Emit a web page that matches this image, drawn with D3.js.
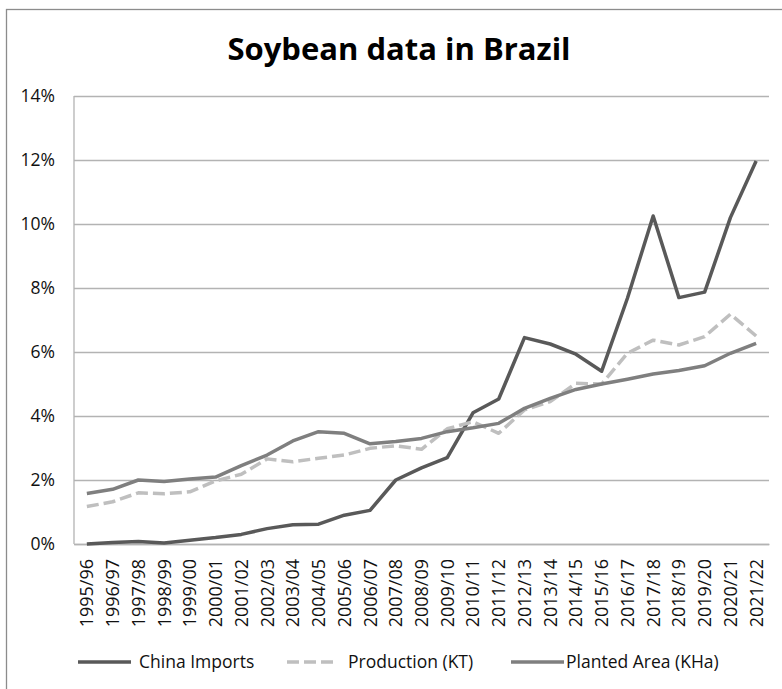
<!DOCTYPE html>
<html>
<head>
<meta charset="utf-8">
<script src="https://cdn.jsdelivr.net/npm/d3@7"></script>
<style>
    body { margin: 0; background: #fff; }
    svg { display: block; }
</style>
</head>
<body>
<div id="output"></div>
<script>
const seasons = ["1995/96", "1996/97", "1997/98", "1998/99", "1999/00", "2000/01", "2001/02",
    "2002/03", "2003/04", "2004/05", "2005/06", "2006/07", "2007/08", "2008/09", "2009/10",
    "2010/11", "2011/12", "2012/13", "2013/14", "2014/15", "2015/16", "2016/17", "2017/18",
    "2018/19", "2019/20", "2020/21", "2021/22"];

const chinaImports = [0.00, 0.05, 0.08, 0.03, 0.12, 0.20, 0.30, 0.48, 0.60, 0.62, 0.90, 1.05, 2.00,
    2.38, 2.70, 4.10, 4.53, 6.45, 6.25, 5.93, 5.40, 7.68, 10.25, 7.70, 7.87, 10.20, 11.97];

const production = [1.17, 1.32, 1.60, 1.57, 1.63, 1.97, 2.18, 2.66, 2.57, 2.68, 2.78, 2.99, 3.07,
    2.96, 3.60, 3.82, 3.46, 4.19, 4.45, 5.02, 5.00, 5.96, 6.37, 6.22, 6.48, 7.18, 6.50];

const plantedArea = [1.58, 1.71, 2.00, 1.95, 2.03, 2.09, 2.45, 2.78, 3.22, 3.51, 3.46, 3.13, 3.20,
    3.30, 3.51, 3.63, 3.77, 4.24, 4.55, 4.83, 5.00, 5.15, 5.31, 5.42, 5.57, 5.96, 6.27];

const yTicks = [0, 2, 4, 6, 8, 10, 12, 14];

const series = [
    { name: "China Imports", values: chinaImports, color: "#595959", dash: null },
    { name: "Production (KT)", values: production, color: "#bfbfbf", dash: "12,5" },
    { name: "Planted Area (KHa)", values: plantedArea, color: "#7f7f7f", dash: null }
];

const W = 782, H = 689;
const font = "'Open Sans', sans-serif";
const plotLeft = 74, plotRight = 769, plotTop = 96, plotBottom = 544;

const svg = d3.select("#output").append("svg").attr("width", W).attr("height", H);

// chart frame (runs off the right and bottom of the picture)
svg.append("rect")
    .attr("x", 6.5).attr("y", 9.5)
    .attr("width", 786).attr("height", 700)
    .style("fill", "none")
    .style("stroke", "#8c8c8c")
    .style("stroke-width", 1.3);

svg.append("text")
    .attr("x", 399).attr("y", 60)
    .style("font-family", font)
    .style("font-weight", "bold")
    .style("font-size", "31px")
    .style("text-anchor", "middle")
    .style("fill", "#000")
    .text("Soybean data in Brazil");

const x = d3.scaleBand().domain(seasons).range([plotLeft, plotRight]).padding(0);
const y = d3.scaleLinear().domain([0, 14]).range([plotBottom, plotTop]);

// gridlines + y labels
const yAxis = svg.append("g")
    .attr("transform", `translate(${plotLeft},0)`)
    .call(d3.axisLeft(y).tickValues(yTicks).tickSize(-(plotRight - plotLeft)).tickPadding(19)
        .tickFormat(d => d + "%"));
yAxis.select(".domain").remove();
yAxis.selectAll(".tick line").style("stroke", "#b3b3b3").style("stroke-width", 1.3);
yAxis.selectAll(".tick text")
    .style("font-family", font)
    .style("font-size", "17.5px")
    .style("fill", "#111");

svg.append("line")
    .attr("x1", plotLeft).attr("x2", plotLeft)
    .attr("y1", plotTop).attr("y2", plotBottom)
    .style("stroke", "#b3b3b3").style("stroke-width", 1.3);

// x axis, rotated labels
const xAxis = svg.append("g")
    .attr("transform", `translate(0,${plotBottom})`)
    .call(d3.axisBottom(x).tickSize(0).tickPadding(0));
xAxis.select(".domain").style("stroke", "#b3b3b3").style("stroke-width", 1.3);
xAxis.selectAll(".tick text")
    .style("font-family", font)
    .style("font-size", "18px")
    .style("fill", "#111")
    .style("text-anchor", "end")
    .attr("transform", "rotate(-90)")
    .attr("x", -15)
    .attr("y", 0)
    .attr("dy", "0.36em");

const line = d3.line()
    .x((d, i) => x(seasons[i]) + x.bandwidth() / 2)
    .y(d => y(d));

for (let s of series) {
    svg.append("path")
        .datum(s.values)
        .attr("d", line)
        .style("fill", "none")
        .style("stroke", s.color)
        .style("stroke-width", 3.5)
        .style("stroke-linejoin", "round")
        .style("stroke-dasharray", s.dash);
}

// legend
const legendPos = [{ x1: 78, x2: 131, tx: 139 }, { x1: 287, x2: 335, tx: 348 }, { x1: 511, x2: 564, tx: 566 }];
const ly = 662;
series.forEach((s, i) => {
    let p = legendPos[i];
    svg.append("line")
        .attr("x1", p.x1).attr("x2", p.x2)
        .attr("y1", ly).attr("y2", ly)
        .style("stroke", s.color)
        .style("stroke-width", 3.5)
        .style("stroke-dasharray", s.dash);
    svg.append("text")
        .attr("x", p.tx).attr("y", ly)
        .attr("dy", "0.35em")
        .style("font-family", font)
        .style("font-size", "17.5px")
        .style("fill", "#111")
        .text(s.name);
});
</script>
</body>
</html>
